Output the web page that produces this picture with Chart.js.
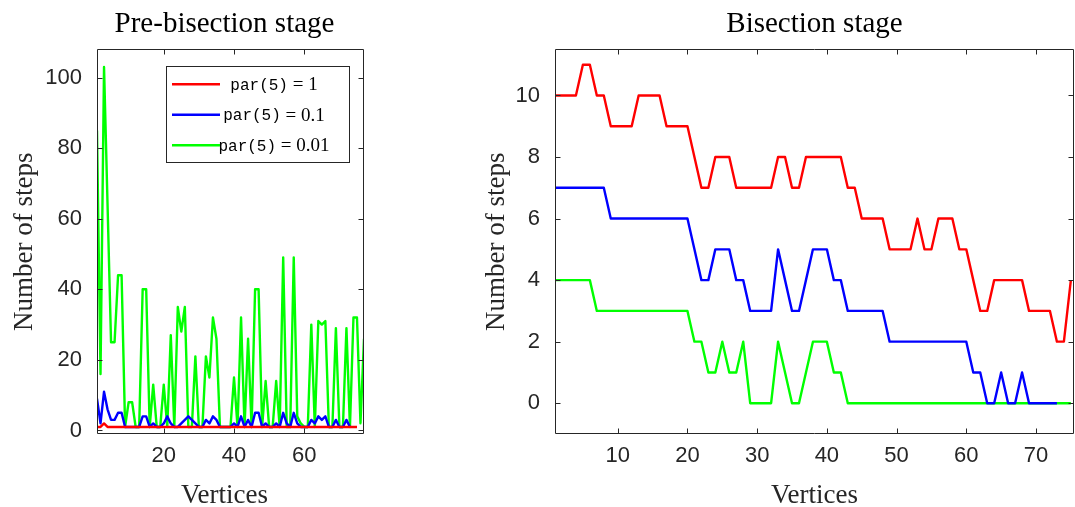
<!DOCTYPE html>
<html>
<head>
<meta charset="utf-8">
<script src="https://cdn.jsdelivr.net/npm/chart.js@4.4.1/dist/chart.umd.min.js"></script>
<style>
  html, body { margin: 0; padding: 0; background: #fff; }
  #wrap { position: relative; width: 1075px; height: 507px; overflow: hidden; }
  #pre { position: absolute; left: 0; top: 0; }
  #bis { position: absolute; left: 440px; top: 0; }
</style>
</head>
<body>
<div id="wrap">
  <canvas id="pre" width="400" height="507"></canvas>
  <canvas id="bis" width="635" height="507"></canvas>
</div>
<script>
// Series shared by both panels
const seriesLabels = ['par(5) = 1', 'par(5) = 0.1', 'par(5) = 0.01'];
const seriesColors = ['#ff0000', '#0000ff', '#00ff00'];

// Pre-bisection stage: number of steps per vertex
const preRed = [
  1, 1, 2, 1, 1, 1, 1, 1, 1, 1,
  1, 1, 1, 1, 1, 1, 1, 1, 1, 1,
  1, 1, 1, 1, 1, 1, 1, 1, 1, 1,
  1, 1, 1, 1, 1, 1, 1, 1, 1, 1,
  1, 1, 1, 1, 1, 1, 1, 1, 1, 1,
  1, 1, 1, 1, 1, 1, 1, 1, 1, 1,
  1, 1, 1, 1, 1, 1, 1, 1, 1, 1,
  1, 1, 1, 1, 1
];
const preBlue = [
  9, 2, 11, 6, 3, 3, 5, 5, 1, 1,
  1, 1, 1, 4, 4, 1, 2, 1, 1, 2,
  4, 2, 1, 1, 2, 3, 4, 3, 2, 1,
  1, 3, 2, 4, 3, 1, 1, 1, 1, 2,
  1, 4, 1, 3, 1, 5, 5, 1, 2, 1,
  1, 2, 1, 5, 2, 1, 5, 2, 1, 1,
  1, 3, 2, 4, 3, 4, 1, 1, 3, 1,
  1, 3, 1
];
const preGreen = [
  85, 16, 103, 64, 25, 25, 44, 44, 1, 8,
  8, 1, 1, 40, 40, 1, 13, 1, 1, 13,
  1, 27, 1, 35, 28, 35, 1, 1, 21, 1,
  1, 21, 15, 32, 26, 1, 1, 1, 1, 15,
  1, 32, 1, 26, 1, 40, 40, 1, 14, 1,
  1, 14, 1, 49, 1, 1, 49, 4, 2, 1,
  1, 30, 1, 31, 30, 31, 1, 1, 29, 1,
  1, 29, 1, 32, 32, 2, 26
];
const preXTicks = [20, 40, 60];
const preYTicks = [0, 20, 40, 60, 80, 100];

// Bisection stage: number of steps per vertex
const bisRed = [
  10, 10, 10, 10, 11, 11, 10, 10, 9, 9,
  9, 9, 10, 10, 10, 10, 9, 9, 9, 9,
  8, 7, 7, 8, 8, 8, 7, 7, 7, 7,
  7, 7, 8, 8, 7, 7, 8, 8, 8, 8,
  8, 8, 7, 7, 6, 6, 6, 6, 5, 5,
  5, 5, 6, 5, 5, 6, 6, 6, 5, 5,
  4, 3, 3, 4, 4, 4, 4, 4, 3, 3,
  3, 3, 2, 2, 4
];
const bisBlue = [
  7, 7, 7, 7, 7, 7, 7, 7, 6, 6,
  6, 6, 6, 6, 6, 6, 6, 6, 6, 6,
  5, 4, 4, 5, 5, 5, 4, 4, 3, 3,
  3, 3, 5, 4, 3, 3, 4, 5, 5, 5,
  4, 4, 3, 3, 3, 3, 3, 3, 2, 2,
  2, 2, 2, 2, 2, 2, 2, 2, 2, 2,
  1, 1, 0, 0, 1, 0, 0, 1, 0, 0,
  0, 0, 0
];
const bisGreen = [
  4, 4, 4, 4, 4, 4, 3, 3, 3, 3,
  3, 3, 3, 3, 3, 3, 3, 3, 3, 3,
  2, 2, 1, 1, 2, 1, 1, 2, 0, 0,
  0, 0, 2, 1, 0, 0, 1, 2, 2, 2,
  1, 1, 0, 0, 0, 0, 0, 0, 0, 0,
  0, 0, 0, 0, 0, 0, 0, 0, 0, 0,
  0, 0, 0, 0, 0, 0, 0, 0, 0, 0,
  0, 0, 0, 0, 0
];
const bisXTicks = [10, 20, 30, 40, 50, 60, 70];
const bisYTicks = [0, 2, 4, 6, 8, 10];

// ---- helpers ----
const SERIF = '"Liberation Serif", "Times New Roman", serif';
const SANS = '"Liberation Sans", Arial, sans-serif';
const MONO = '"Liberation Mono", "DejaVu Sans Mono", monospace';
const AXIS_COLOR = '#262626';

function toPoints(values) {
  return values.map((v, i) => ({ x: i + 1, y: v }));
}

function makeDatasets(seriesList) {
  return seriesList.map((vals, i) => ({
    label: seriesLabels[i],
    data: toPoints(vals),
    borderColor: seriesColors[i],
    backgroundColor: seriesColors[i],
    borderWidth: 2.4,
    pointRadius: 0,
    tension: 0,
    fill: false,
    borderJoinStyle: 'round'
  }));
}

// Box around the plot with tick marks pointing inwards on all four sides
const axesFrame = {
  id: 'axesFrame',
  afterDatasetsDraw(chart, args, opts) {
    const { ctx, chartArea: a, scales } = chart;
    const L = Math.round(a.left) + 0.5, R = Math.round(a.right) - 0.5;
    const T = Math.round(a.top) + 0.5, B = Math.round(a.bottom) - 0.5;
    const len = opts.len || 5;
    ctx.save();
    ctx.strokeStyle = opts.color || AXIS_COLOR;
    ctx.lineWidth = 1;
    ctx.beginPath();
    ctx.rect(L, T, R - L, B - T);
    scales.x.ticks.forEach(t => {
      const px = Math.round(scales.x.getPixelForValue(t.value)) + 0.5;
      ctx.moveTo(px, B); ctx.lineTo(px, B - len);
      ctx.moveTo(px, T); ctx.lineTo(px, T + len);
    });
    scales.y.ticks.forEach(t => {
      const py = Math.round(scales.y.getPixelForValue(t.value)) + 0.5;
      ctx.moveTo(L, py); ctx.lineTo(L + len, py);
      ctx.moveTo(R, py); ctx.lineTo(R - len, py);
    });
    ctx.stroke();
    ctx.restore();
  }
};

// Nudges the centred title and x-axis title sideways once the layout is done
// (tick positions were already fixed by the layout pass). The x scale edges are
// put back before the lines are drawn so that line clipping is unaffected.
const titleNudge = {
  id: 'titleNudge',
  afterLayout(chart, args, o) {
    const dx = (o && o.dx) || 0;
    if (!dx) return;
    if (chart.titleBlock) { chart.titleBlock.left += dx; chart.titleBlock.right += dx; }
    const xs = chart.scales.x;
    xs.left += dx; xs.right += dx;
    chart.$nudged = dx;
  },
  beforeDatasetsDraw(chart) {
    const dx = chart.$nudged || 0;
    if (!dx) return;
    const xs = chart.scales.x;
    xs.left -= dx; xs.right -= dx;
    chart.$nudged = 0;
  }
};

// Boxed legend in the upper part of the plot: typewriter "par(5)" followed by the value
const boxLegend = {
  id: 'boxLegend',
  afterDraw(chart, args, o) {
    if (!o || !o.show) return;
    const ctx = chart.ctx;
    const a = chart.chartArea;
    const x = a.left + o.dx, y = a.top + o.dy;
    ctx.save();
    ctx.fillStyle = '#fff';
    ctx.fillRect(x, y, o.w, o.h);
    ctx.strokeStyle = AXIS_COLOR;
    ctx.lineWidth = 1;
    ctx.strokeRect(Math.round(x) + 0.5, Math.round(y) + 0.5, o.w, o.h);
    chart.data.datasets.forEach((ds, i) => {
      const cy = y + o.firstRow + i * o.rowGap;
      const cut = ds.label.indexOf(')') + 1;
      const code = ds.label.slice(0, cut);
      const rest = ds.label.slice(cut);
      ctx.font = o.monoSize + 'px ' + MONO;
      const wCode = ctx.measureText(code).width;
      ctx.font = o.serifSize + 'px ' + SERIF;
      const wRest = ctx.measureText(rest).width;
      let tx = x + o.textCenter - (wCode + wRest) / 2;
      ctx.fillStyle = '#000';
      ctx.textBaseline = 'middle';
      ctx.textAlign = 'left';
      ctx.font = o.monoSize + 'px ' + MONO;
      ctx.fillText(code, tx, cy + 1);
      ctx.font = o.serifSize + 'px ' + SERIF;
      ctx.fillText(rest, tx + wCode, cy + 1);
      ctx.strokeStyle = ds.borderColor;
      ctx.lineWidth = ds.borderWidth;
      ctx.beginPath();
      ctx.moveTo(x + o.lineStart, cy);
      ctx.lineTo(x + o.lineEnd, cy);
      ctx.stroke();
    });
    ctx.restore();
  }
};

function panelConfig(p) {
  return {
    type: 'line',
    data: { datasets: makeDatasets(p.series) },
    plugins: [axesFrame, boxLegend, titleNudge],
    options: {
      responsive: false,
      animation: false,
      devicePixelRatio: 1,
      events: [],
      layout: { padding: { left: 0, right: p.padRight, top: 0, bottom: 0 } },
      scales: {
        x: {
          type: 'linear',
          min: p.xMin, max: p.xMax,
          afterBuildTicks: s => { s.ticks = p.xTicks.map(v => ({ value: v })); },
          afterFit: s => { s.height = p.xAxisHeight; },
          grid: { display: false, drawTicks: false },
          border: { display: false },
          ticks: { padding: 9, color: AXIS_COLOR, font: { family: SANS, size: 22 }, maxRotation: 0 },
          title: { display: true, text: 'Vertices', color: AXIS_COLOR, font: { family: SERIF, size: 27 }, padding: { top: 0, bottom: -5 } }
        },
        y: {
          type: 'linear',
          min: p.yMin, max: p.yMax,
          afterBuildTicks: s => { s.ticks = p.yTicks.map(v => ({ value: v })); },
          afterFit: s => { s.width = p.yAxisWidth; },
          grid: { display: false, drawTicks: false },
          border: { display: false },
          ticks: { padding: 15, color: AXIS_COLOR, font: { family: SANS, size: 22 } },
          title: { display: true, text: 'Number of steps', color: AXIS_COLOR, font: { family: SERIF, size: 27 }, padding: { top: p.yTitlePad, bottom: 0 } }
        }
      },
      plugins: {
        legend: { display: false },
        tooltip: { enabled: false },
        title: {
          display: true, text: p.title, fullSize: false, color: '#000',
          font: { family: SERIF, size: 29, weight: 'normal' },
          padding: { top: 7, bottom: 7.5 }
        },
        axesFrame: { len: 5, color: AXIS_COLOR },
        titleNudge: { dx: p.titleDx || 0 },
        boxLegend: p.legend || { show: false }
      }
    }
  };
}

new Chart(document.getElementById('pre'), panelConfig({
  title: 'Pre-bisection stage',
  series: [preRed, preBlue, preGreen],
  xMin: 1, xMax: 77, yMin: -1, yMax: 108,
  xTicks: preXTicks, yTicks: preYTicks,
  yAxisWidth: 97, xAxisHeight: 73, padRight: 36, yTitlePad: 9, titleDx: -6,
  legend: {
    show: true, dx: 69, dy: 17, w: 183, h: 96,
    firstRow: 18, rowGap: 30.5, lineStart: 6, lineEnd: 54, textCenter: 108,
    monoSize: 16, serifSize: 19
  }
}));

new Chart(document.getElementById('bis'), panelConfig({
  title: 'Bisection stage',
  series: [bisRed, bisBlue, bisGreen],
  xMin: 1, xMax: 75.45, yMin: -1, yMax: 11.5,
  xTicks: bisXTicks, yTicks: bisYTicks,
  yAxisWidth: 115, xAxisHeight: 73, padRight: 1, yTitlePad: 41
}));
</script>
</body>
</html>
